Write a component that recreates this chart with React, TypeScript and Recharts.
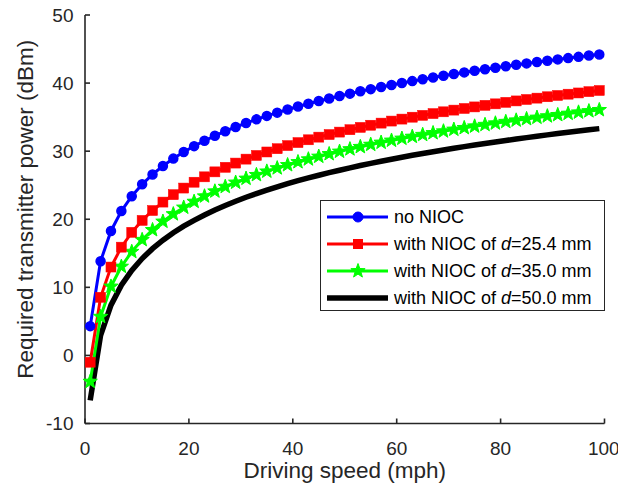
import React from 'react';
import { LineChart, Line, XAxis, YAxis, Legend, Label } from 'recharts';

const speeds = [1, 3, 5, 7, 9, 11, 13, 15, 17, 19, 21, 23, 25, 27, 29, 31, 33, 35, 37, 39, 41, 43, 45, 47, 49, 51, 53, 55, 57, 59, 61, 63, 65, 67, 69, 71, 73, 75, 77, 79, 81, 83, 85, 87, 89, 91, 93, 95, 97, 99];

const noNioc = [4.3, 13.84, 18.28, 21.2, 23.38, 25.13, 26.58, 27.82, 28.91, 29.88, 30.74, 31.53, 32.26, 32.93, 33.55, 34.13, 34.67, 35.18, 35.66, 36.12, 36.56, 36.97, 37.36, 37.74, 38.1, 38.45, 38.79, 39.11, 39.42, 39.72, 40.01, 40.29, 40.56, 40.82, 41.08, 41.33, 41.57, 41.8, 42.03, 42.25, 42.47, 42.68, 42.89, 43.09, 43.29, 43.48, 43.67, 43.85, 44.04, 44.21];

const nioc254 = [-1, 8.54, 12.98, 15.9, 18.08, 19.83, 21.28, 22.52, 23.61, 24.58, 25.44, 26.23, 26.96, 27.63, 28.25, 28.83, 29.37, 29.88, 30.36, 30.82, 31.26, 31.67, 32.06, 32.44, 32.8, 33.15, 33.49, 33.81, 34.12, 34.42, 34.71, 34.99, 35.26, 35.52, 35.78, 36.03, 36.27, 36.5, 36.73, 36.95, 37.17, 37.38, 37.59, 37.79, 37.99, 38.18, 38.37, 38.55, 38.74, 38.91];

const nioc350 = [-3.85, 5.69, 10.13, 13.05, 15.23, 16.98, 18.43, 19.67, 20.76, 21.73, 22.59, 23.38, 24.11, 24.78, 25.4, 25.98, 26.52, 27.03, 27.51, 27.97, 28.41, 28.82, 29.21, 29.59, 29.95, 30.3, 30.64, 30.96, 31.27, 31.57, 31.86, 32.14, 32.41, 32.67, 32.93, 33.18, 33.42, 33.65, 33.88, 34.1, 34.32, 34.53, 34.74, 34.94, 35.14, 35.33, 35.52, 35.7, 35.89, 36.06];

const nioc500 = [-6.6, 2.94, 7.38, 10.3, 12.48, 14.23, 15.68, 16.92, 18.01, 18.98, 19.84, 20.63, 21.36, 22.03, 22.65, 23.23, 23.77, 24.28, 24.76, 25.22, 25.66, 26.07, 26.46, 26.84, 27.2, 27.55, 27.89, 28.21, 28.52, 28.82, 29.11, 29.39, 29.66, 29.92, 30.18, 30.43, 30.67, 30.9, 31.13, 31.35, 31.57, 31.78, 31.99, 32.19, 32.39, 32.58, 32.77, 32.95, 33.14, 33.31];

const xTicks = [0, 20, 40, 60, 80, 100];
const yTicks = [-10, 0, 10, 20, 30, 40, 50];

const seriesLabels = [
  'no NIOC',
  'with NIOC of d=25.4 mm',
  'with NIOC of d=35.0 mm',
  'with NIOC of d=50.0 mm',
];
const seriesColors = ['#0000ff', '#ff0000', '#00ff00', '#000000'];

const data = speeds.map((s, i) => ({
  speed: s,
  noNioc: noNioc[i],
  nioc254: nioc254[i],
  nioc350: nioc350[i],
  nioc500: nioc500[i],
}));

const FONT = '"Liberation Sans", Arial, Helvetica, sans-serif';
const AXIS_COLOR = '#262626';

function starPoints(cx: number, cy: number, R: number, r: number) {
  const pts: string[] = [];
  for (let i = 0; i < 10; i++) {
    const a = -Math.PI / 2 + (i * Math.PI) / 5;
    const rad = i % 2 === 0 ? R : r;
    pts.push(`${cx + rad * Math.cos(a)},${cy + rad * Math.sin(a)}`);
  }
  return pts.join(' ');
}

const StarDot = (props: any) => {
  const { cx, cy } = props;
  if (cx == null || cy == null) return null;
  return (
    <polygon
      key={`star-${props.index}`}
      points={starPoints(cx, cy, 7.5, 3.1)}
      fill="#00ff00"
      stroke="#00ff00"
      strokeWidth={1}
    />
  );
};

const SquareDot = (props: any) => {
  const { cx, cy } = props;
  if (cx == null || cy == null) return null;
  return (
    <rect
      key={`sq-${props.index}`}
      x={cx - 5}
      y={cy - 5}
      width={10}
      height={10}
      fill="#ff0000"
      stroke="#ff0000"
      strokeWidth={0.5}
    />
  );
};

function renderLabelText(label: string) {
  const idx = label.indexOf('d=');
  if (idx < 0) return label;
  return (
    <>
      {label.slice(0, idx)}
      <tspan fontStyle="italic">d</tspan>
      {label.slice(idx + 1)}
    </>
  );
}

const LegendContent = () => {
  return (
    <svg width={286} height={112} style={{ display: 'block' }}>
      <rect x={0.5} y={0.5} width={284} height={110} fill="#ffffff" stroke={AXIS_COLOR} strokeWidth={1} />
      {seriesLabels.map((lab, i) => {
        const y = 17 + i * 27;
        const color = seriesColors[i];
        return (
          <g key={lab}>
            <line x1={7} x2={68} y1={y} y2={y} stroke={color} strokeWidth={i === 3 ? 5.5 : 3} />
            {i === 0 && <circle cx={38} cy={y} r={5} fill={color} stroke={color} />}
            {i === 1 && <rect x={33} y={y - 5} width={10} height={10} fill={color} />}
            {i === 2 && <polygon points={starPoints(38, y, 7.5, 3.1)} fill={color} stroke={color} />}
            <text x={74} y={y} dominantBaseline="central" fontSize={18} fontFamily={FONT} fill="#000">
              {renderLabelText(lab)}
            </text>
          </g>
        );
      })}
    </svg>
  );
};

const YLabel = (props: any) => {
  const vb = props.viewBox || {};
  const cx = (vb.x ?? 0) + 33;
  const cy = (vb.y ?? 0) + (vb.height ?? 0) / 2 - 10;
  return (
    <text
      x={cx}
      y={cy}
      transform={`rotate(-90 ${cx} ${cy})`}
      textAnchor="middle"
      fontSize={22.5}
      fontFamily={FONT}
      fill={AXIS_COLOR}
    >
      Required transmitter power (dBm)
    </text>
  );
};

const tickStyle = { fontSize: 19, fontFamily: FONT, fill: AXIS_COLOR };

export default function App() {
  return (
    <div style={{ position: 'fixed', left: 0, top: 0, background: '#fff' }}>
      <LineChart
        width={618}
        height={484}
        data={data}
        margin={{ top: 15, right: 13.5, left: 0, bottom: 0 }}
        style={{ background: '#fff' }}
      >
        <XAxis
          dataKey="speed"
          type="number"
          domain={[0, 100]}
          ticks={xTicks}
          height={60.5}
          tickSize={-5}
          tickMargin={23}
          tick={tickStyle}
          axisLine={{ stroke: AXIS_COLOR, strokeWidth: 1.6 }}
          tickLine={{ stroke: AXIS_COLOR, strokeWidth: 1.6 }}
        >
          <Label
            value="Driving speed (mph)"
            position="insideBottom"
            offset={6}
            style={{ fontSize: 22.5, fontFamily: FONT, fill: AXIS_COLOR }}
          />
        </XAxis>
        <XAxis
          xAxisId="top"
          orientation="top"
          dataKey="speed"
          type="number"
          domain={[0, 100]}
          ticks={xTicks}
          height={0}
          tickSize={-5}
          tickFormatter={() => ''}
          axisLine={{ stroke: AXIS_COLOR, strokeWidth: 1.6 }}
          tickLine={{ stroke: AXIS_COLOR, strokeWidth: 1.6 }}
        />
        <YAxis
          type="number"
          domain={[-10, 50]}
          ticks={yTicks}
          width={85}
          tickSize={-5}
          tickMargin={16.5}
          tick={tickStyle}
          axisLine={{ stroke: AXIS_COLOR, strokeWidth: 1.6 }}
          tickLine={{ stroke: AXIS_COLOR, strokeWidth: 1.6 }}
          label={{ content: <YLabel /> }}
        />
        <YAxis
          yAxisId="right"
          orientation="right"
          type="number"
          domain={[-10, 50]}
          ticks={yTicks}
          width={0}
          tickSize={-5}
          tickFormatter={() => ''}
          axisLine={{ stroke: AXIS_COLOR, strokeWidth: 1.6 }}
          tickLine={{ stroke: AXIS_COLOR, strokeWidth: 1.6 }}
        />
        <Line
          dataKey="nioc500"
          stroke="#000000"
          strokeWidth={5.5}
          dot={false}
          activeDot={false}
          isAnimationActive={false}
        />
        <Line
          dataKey="nioc350"
          stroke="#00ff00"
          strokeWidth={3}
          dot={StarDot}
          activeDot={false}
          isAnimationActive={false}
        />
        <Line
          dataKey="nioc254"
          stroke="#ff0000"
          strokeWidth={3}
          dot={SquareDot}
          activeDot={false}
          isAnimationActive={false}
        />
        <Line
          dataKey="noNioc"
          stroke="#0000ff"
          strokeWidth={3}
          dot={{ r: 4.5, fill: '#0000ff', stroke: '#0000ff', strokeWidth: 1.5 }}
          activeDot={false}
          isAnimationActive={false}
        />
        <Legend
          layout="vertical"
          align="center"
          verticalAlign="middle"
          content={<LegendContent />}
          wrapperStyle={{ left: 320, top: 200, width: 286, height: 112 }}
        />
      </LineChart>
    </div>
  );
}
